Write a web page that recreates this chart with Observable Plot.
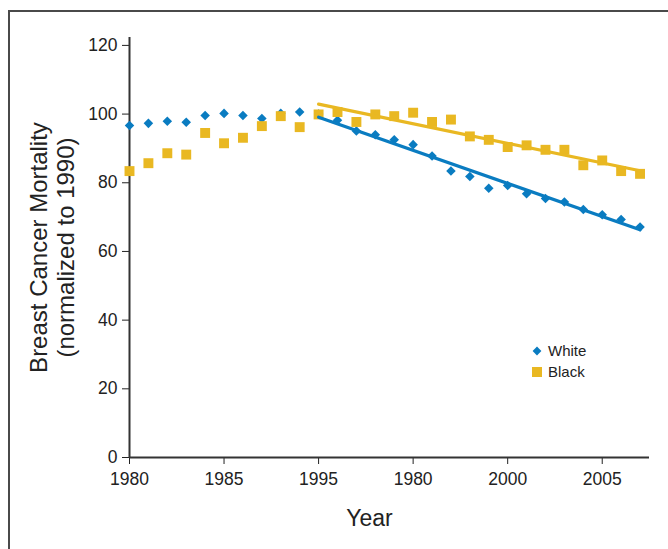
<!DOCTYPE html>
<html><head><meta charset="utf-8">
<script src="https://cdn.jsdelivr.net/npm/d3@7"></script>
<script src="https://cdn.jsdelivr.net/npm/@observablehq/plot@0.6"></script>
<style>
html,body{margin:0;padding:0;background:#fff;}
#wrap{position:relative;width:668px;height:549px;overflow:hidden;}
#box{position:absolute;left:8px;top:10px;width:720px;height:620px;border-left:2px solid #4a4a4a;border-top:2px solid #4a4a4a;box-sizing:border-box;}
#chart{position:absolute;left:0;top:0;}
#legend{position:absolute;left:530px;top:340px;font:15px "Liberation Sans",Arial,sans-serif;color:#222;}
#legend .row{height:21px;line-height:21px;display:flex;align-items:center;}
#legend svg{width:14px;height:14px;margin-right:4px;}
</style></head><body>
<div id="wrap"><div id="box"></div><div id="chart"></div><div id="legend"></div></div>
<script>
const years = [1980,1981,1982,1983,1984,1985,1986,1987,1988,1989,1990,1991,1992,1993,1994,1995,1996,1997,1998,1999,2000,2001,2002,2003,2004,2005,2006,2007];
const white = [96.7,97.3,97.9,97.6,99.6,100.2,99.6,98.7,100.2,100.6,100.0,98.2,95.1,94.0,92.5,91.1,87.8,83.4,81.8,78.4,79.2,76.8,75.4,74.4,72.2,70.7,69.3,67.1];
const black = [83.4,85.7,88.6,88.2,94.5,91.5,93.1,96.5,99.4,96.2,99.9,100.6,97.7,99.9,99.4,100.4,97.7,98.4,93.5,92.5,90.4,90.9,89.6,89.6,85.1,86.5,83.4,82.6];
const trendYears = [1990, 2007];
const whiteTrend = [99.1, 66.3];
const blackTrend = [102.9, 83.5];
const xTicks = [1980,1985,1990,1995,2000,2005];
const xTickLabels = ["1980","1985","1995","1980","2000","2005"];
const yTicks = [0,20,40,60,80,100,120];
const seriesNames = ["White","Black"];
const yTitle = "Breast Cancer Mortality\n(normalized to 1990)";
const xTitle = "Year";

const blue = "#0a7cc1";
const yellow = "#e9b822";

const whiteData = years.map((yr,i)=>({year:yr, value:white[i]}));
const blackData = years.map((yr,i)=>({year:yr, value:black[i]}));
const whiteTrendData = trendYears.map((yr,i)=>({year:yr, value:whiteTrend[i]}));
const blackTrendData = trendYears.map((yr,i)=>({year:yr, value:blackTrend[i]}));

const plot = Plot.plot({
  width:668, height:549,
  marginLeft:129, marginRight:19, marginTop:37, marginBottom:92,
  style:{fontFamily:'"Liberation Sans", Arial, sans-serif', fontSize:"17.5px", color:"#222", background:"transparent", overflow:"visible"},
  x:{domain:[1980,2007.5], ticks:xTicks, tickFormat:d=>xTickLabels[xTicks.indexOf(d)], tickSize:7, tickPadding:8, label:null},
  y:{domain:[0,122.3], ticks:yTicks, tickSize:7, tickPadding:5, label:null},
  marks:[
    Plot.ruleY([0],{stroke:"#333", strokeWidth:2}),
    Plot.ruleX([1980],{stroke:"#333", strokeWidth:2}),
    Plot.dot(whiteData,{x:"year", y:"value", symbol:"diamond2", r:4.3, fill:blue}),
    Plot.dot(blackData,{x:"year", y:"value", symbol:"square", r:5.6, fill:yellow}),
    Plot.line(blackTrendData,{x:"year", y:"value", stroke:yellow, strokeWidth:3.2}),
    Plot.line(whiteTrendData,{x:"year", y:"value", stroke:blue, strokeWidth:3.2}),
    Plot.text([yTitle],{text:d=>d, frameAnchor:"left", textAnchor:"middle", lineAnchor:"middle", rotate:-90, dx:-78, fontSize:24, lineHeight:1.15, fill:"#222"}),
    Plot.text([xTitle],{text:d=>d, frameAnchor:"bottom", textAnchor:"middle", lineAnchor:"middle", dx:-20, dy:61, fontSize:23, fill:"#222"})
  ]
});
document.getElementById("chart").appendChild(plot);

const symbols = {White:"M7,2.6 L11.4,7 L7,11.4 L2.6,7 Z", Black:"M2,2 L12,2 L12,12 L2,12 Z"};
const colors = {White:blue, Black:yellow};
const legend = d3.select("#legend");
seriesNames.forEach(name=>{
  const row = legend.append("div").attr("class","row");
  const svg = row.append("svg").attr("viewBox","0 0 14 14");
  svg.append("path").attr("d", symbols[name]).attr("fill", colors[name]);
  row.append("span").text(name);
});
</script>
</body></html>
